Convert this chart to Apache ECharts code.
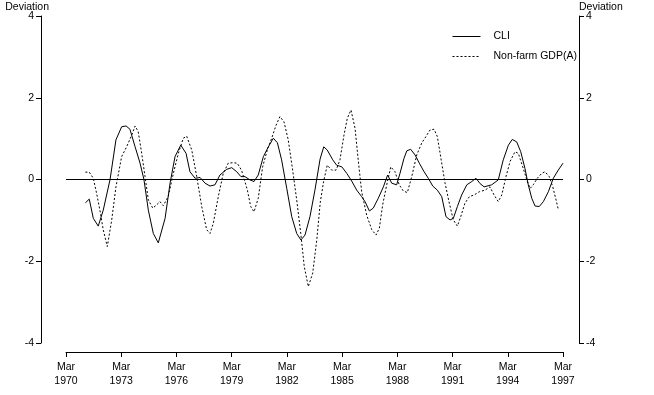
<!DOCTYPE html>
<html><head><meta charset="utf-8">
<script src="https://cdn.jsdelivr.net/npm/echarts@6/dist/echarts.min.js"></script>
<style>html,body{margin:0;padding:0;background:#fff}#c{width:654px;height:395px}</style>
</head><body><div id="c"></div>
<script>
const cliDates = [1971.22,1971.43,1971.65,1971.92,1972.19,1972.56,1972.88,1973.19,1973.43,1973.64,
1973.92,1974.19,1974.40,1974.64,1974.91,1975.18,1975.55,1975.82,1976.09,1976.40,
1976.69,1976.90,1977.18,1977.45,1977.72,1977.99,1978.26,1978.53,1978.90,1979.17,
1979.44,1979.67,1979.89,1980.16,1980.38,1980.61,1980.89,1981.16,1981.43,1981.65,
1981.88,1982.16,1982.43,1982.70,1982.93,1983.15,1983.42,1983.69,1983.97,1984.17,
1984.36,1984.66,1984.87,1985.15,1985.42,1985.69,1985.96,1986.23,1986.41,1986.65,
1986.86,1987.13,1987.41,1987.64,1987.86,1988.13,1988.31,1988.53,1988.68,1988.89,
1989.13,1989.36,1989.62,1989.85,1990.09,1990.34,1990.58,1990.81,1991.03,1991.21,
1991.43,1991.66,1991.94,1992.21,1992.44,1992.66,1992.88,1993.29,1993.65,1993.92,
1994.20,1994.41,1994.65,1994.87,1995.10,1995.28,1995.47,1995.65,1995.88,1996.10,
1996.37,1996.64,1996.91,1997.17];
const cliValues = [-0.57,-0.48,-0.95,-1.14,-0.75,0.00,0.97,1.29,1.31,1.23,
0.80,0.40,0.00,-0.75,-1.32,-1.55,-0.95,-0.09,0.56,0.84,
0.64,0.19,0.03,0.05,-0.09,-0.16,-0.13,0.11,0.25,0.29,
0.19,0.07,0.07,-0.01,-0.05,0.11,0.56,0.80,1.01,0.90,
0.48,-0.22,-0.91,-1.32,-1.48,-1.36,-0.91,-0.26,0.50,0.80,
0.72,0.48,0.35,0.31,0.15,-0.04,-0.26,-0.42,-0.54,-0.77,
-0.70,-0.46,-0.18,0.11,-0.09,-0.13,0.15,0.52,0.70,0.74,
0.60,0.40,0.19,0.03,-0.16,-0.26,-0.42,-0.91,-0.99,-0.95,
-0.66,-0.38,-0.13,-0.05,0.03,-0.10,-0.18,-0.13,-0.01,0.48,
0.84,0.98,0.92,0.68,0.27,-0.13,-0.46,-0.65,-0.66,-0.54,
-0.30,0.03,0.23,0.40];
const gdpDates = [1971.22,1971.43,1971.65,1971.83,1972.01,1972.19,1972.41,1972.65,1972.88,1973.19,
1973.46,1973.74,1973.92,1974.09,1974.28,1974.46,1974.64,1974.88,1975.09,1975.27,
1975.45,1975.72,1976.00,1976.27,1976.54,1976.72,1977.00,1977.27,1977.54,1977.81,
1977.99,1978.17,1978.44,1978.71,1978.98,1979.22,1979.47,1979.71,1980.02,1980.20,
1980.38,1980.61,1980.85,1981.10,1981.34,1981.58,1981.79,1982.01,1982.24,1982.48,
1982.70,1982.92,1983.11,1983.33,1983.57,1983.79,1983.98,1984.16,1984.36,1984.60,
1984.84,1985.05,1985.27,1985.45,1985.65,1985.87,1986.05,1986.23,1986.50,1986.78,
1987.01,1987.19,1987.37,1987.59,1987.81,1988.04,1988.27,1988.49,1988.71,1988.95,
1989.22,1989.49,1989.72,1989.94,1990.16,1990.34,1990.52,1990.76,1990.99,1991.21,
1991.43,1991.61,1991.84,1992.08,1992.33,1992.62,1992.93,1993.20,1993.42,1993.65,
1993.84,1994.07,1994.29,1994.56,1994.74,1994.98,1995.20,1995.38,1995.55,1995.77,
1996.01,1996.19,1996.42,1996.61,1996.79,1996.91];
const gdpValues = [0.18,0.18,0.03,-0.34,-0.75,-1.23,-1.64,-0.99,-0.18,0.56,
0.80,1.09,1.31,1.17,0.64,0.07,-0.50,-0.70,-0.62,-0.54,
-0.64,-0.42,0.15,0.64,1.01,1.06,0.72,0.07,-0.66,-1.23,
-1.32,-1.07,-0.42,0.15,0.40,0.41,0.40,0.22,-0.26,-0.66,
-0.79,-0.46,0.31,0.72,1.01,1.33,1.54,1.41,0.97,0.23,
-0.50,-1.32,-2.13,-2.62,-2.29,-1.48,-0.56,-0.05,0.35,0.23,
0.23,0.48,1.09,1.50,1.70,1.25,0.44,-0.30,-0.87,-1.23,
-1.36,-1.19,-0.62,-0.13,0.31,0.19,-0.13,-0.28,-0.32,0.07,
0.60,0.89,1.05,1.21,1.23,1.05,0.56,-0.09,-0.58,-0.99,
-1.14,-0.91,-0.58,-0.42,-0.38,-0.30,-0.26,-0.18,-0.38,-0.54,
-0.38,0.07,0.44,0.68,0.64,0.31,-0.01,-0.22,-0.13,0.03,
0.15,0.19,0.07,-0.18,-0.50,-0.73];
const seriesNames = ['CLI', 'Non-farm GDP(A)'];
const startYear = 1970;            // x axis starts at March 1970
const startDate = 1970 + 2/12;
const yearSpan = 27;
const tickStep = 3;

const pairs = (d, v) => d.map((x, i) => [x - startDate, v[i]]);
const font = {fontFamily: '"Liberation Sans", Arial, sans-serif', fontSize: 10.5, color: '#000'};
const chart = echarts.init(document.getElementById('c'), null, {renderer: 'canvas'});
const yAx = (pos, off) => ({
  type: 'value', min: -4, max: 4, interval: 2, position: pos, offset: off,
  name: 'Deviation', nameLocation: 'end', nameGap: 9, nameMoveOverlap: false,
  nameTextStyle: Object.assign({}, font, {verticalAlign: 'middle'}, pos === 'left' ? {align: 'right', padding: [0, -8, 0, 0]} : {align: 'left', padding: [0, 0, 0, 0]}),
  axisLine: {show: true, onZero: false, lineStyle: {color: '#000', width: 1}},
  axisTick: {show: true, length: 5, lineStyle: {color: '#000'}},
  axisLabel: Object.assign({}, font, {margin: 7}),
  splitLine: {show: false}
});
chart.setOption({
  animation: false,
  backgroundColor: '#fff',
  grid: {left: 66, right: 91, top: 16, bottom: 52},
  legend: {
    orient: 'vertical', left: 447, top: 26, itemGap: 9, itemWidth: 28, itemHeight: 10,
    itemStyle: {opacity: 0},
    lineStyle: {width: 1},
    textStyle: Object.assign({}, font, {padding: [0, 0, 0, 8]}),
    data: seriesNames
  },
  xAxis: {
    type: 'value', min: 0, max: yearSpan, interval: tickStep, offset: 9,
    axisLine: {show: true, onZero: false, lineStyle: {color: '#000', width: 1}},
    axisTick: {show: true, length: 5, lineStyle: {color: '#000'}},
    axisLabel: Object.assign({}, font, {margin: 8, lineHeight: 14, formatter: v => 'Mar\n' + (startYear + v)}),
    splitLine: {show: false}
  },
  yAxis: [yAx('left', 25), yAx('right', 16)],
  series: [
    {name: seriesNames[0], type: 'line', data: pairs(cliDates, cliValues), symbol: 'none', smooth: false,
     lineStyle: {color: '#000', width: 1}, itemStyle: {color: '#000'},
     markLine: {silent: true, symbol: 'none', label: {show: false}, lineStyle: {color: '#000', type: 'solid', width: 1}, data: [{yAxis: 0}]}},
    {name: seriesNames[1], type: 'line', data: pairs(gdpDates, gdpValues), symbol: 'none', smooth: false,
     lineStyle: {color: '#000', width: 1, type: [2, 2]}, itemStyle: {color: '#000'}}
  ]
});
</script></body></html>
